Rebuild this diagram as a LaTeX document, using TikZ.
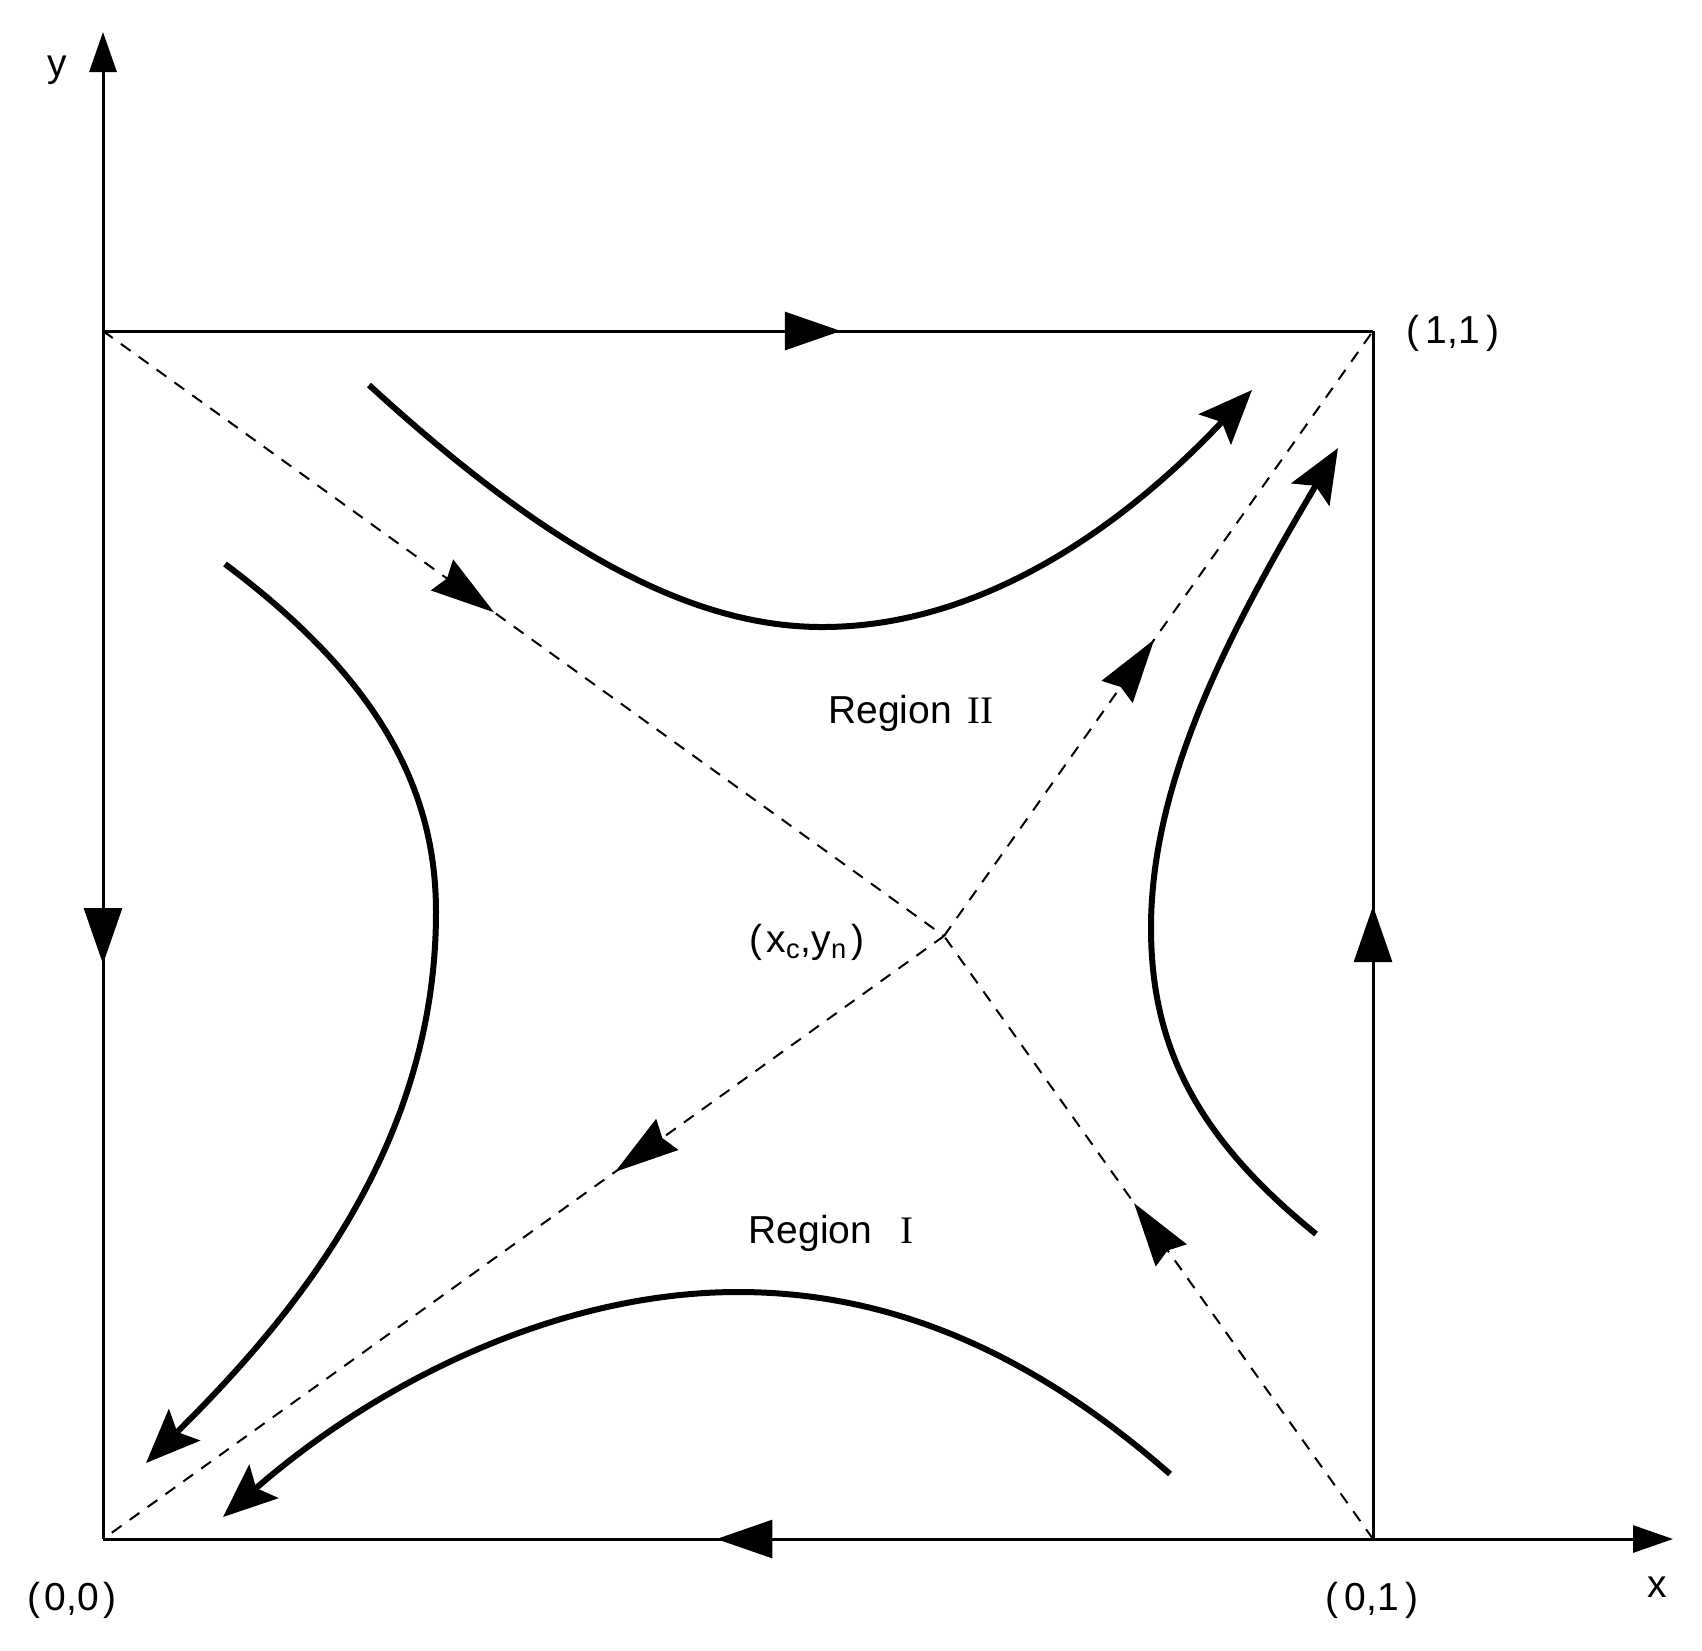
\documentclass[tikz,border=0pt]{standalone}
\usepackage{fontspec}
\setmainfont{Liberation Sans}
\newfontfamily\romanfont{Liberation Serif}
\usetikzlibrary{arrows.meta,decorations.markings}
\tikzset{
  edgeline/.style={line width=1.5pt},
  axisline/.style={line width=1.5pt,-{Triangle[length=20pt,width=13.5pt]}},
  sep/.style={line width=1pt,dash pattern=on 6pt off 5pt},
  traj/.style={line width=3pt,-{Stealth[length=27pt,width=22pt,inset=5pt]}},
  edgearrow/.style={postaction={decorate,decoration={markings,mark=at position #1 with {\arrow{Triangle[length=28pt,width=19pt]}}}}},
  separrow/.style={postaction={decorate,decoration={markings,mark=at position #1 with {\arrow{Stealth[length=32pt,width=19pt,inset=3pt]}}}}},
  lab/.style={font=\fontsize{19.5pt}{23pt}\selectfont,inner sep=0pt}
}
\begin{document}
\begin{tikzpicture}[x=0.5pt,y=-0.5pt]
\useasboundingbox (0,0) rectangle (1702,1650);
\coordinate (O) at (103,1539);
\coordinate (TL) at (103,331);
\coordinate (TR) at (1373,331);
\coordinate (BR) at (1373,1539);
\coordinate (S) at (944,936);
\coordinate (ytip) at (103,32);
\coordinate (xtip) at (1673,1539);
% axes
\draw[axisline] (O) -- (ytip);
\draw[axisline] (O) -- (xtip);
% square edges with direction arrows
\draw[edgeline,edgearrow=0.581] (TL) -- (TR);
\draw[edgeline,edgearrow=0.524] (TL) -- (O);
\draw[edgeline,edgearrow=0.524] (BR) -- (TR);
\draw[edgeline,edgearrow=0.517] (BR) -- (O);
% separatrices
\draw[sep,separrow=0.465] (TL) -- (S);
\draw[sep,separrow=0.557] (BR) -- (S);
\draw[sep,separrow=0.391] (S) -- (O);
\draw[sep,separrow=0.49] (S) -- (TR);
% trajectories
\coordinate (t1) at (369,385);
\coordinate (t1e) at (1252,390);
\draw[traj] (t1) .. controls (560,560) and (700,628) .. (825,627) .. controls (980,626) and (1120,530) .. (t1e);
\coordinate (t2) at (225,564);
\coordinate (t2e) at (146,1463);
\draw[traj] (t2) .. controls (380,680) and (436,790) .. (436,912) .. controls (436,1150) and (290,1320) .. (t2e);
\coordinate (t3) at (1316,1234);
\coordinate (t3e) at (1338,448);
\draw[traj] (t3) .. controls (1200,1140) and (1151,1050) .. (1151,928) .. controls (1151,780) and (1230,630) .. (t3e);
\coordinate (t4) at (1170,1474);
\coordinate (t4e) at (223,1517);
\draw[traj] (t4) .. controls (1040,1360) and (900,1292) .. (738,1292) .. controls (560,1292) and (380,1380) .. (t4e);
% labels
\node[lab] (ylab) at (57,70) {y};
\node[lab] (xlab) at (1657,1587) {x};
\node[lab] (p11) at (1453,333) {(\hspace{3pt}1,1\hspace{3pt})};
\node[lab] (p00) at (72,1600) {(\hspace{2pt}0,0\hspace{2pt})};
\node[lab] (p01) at (1372,1600) {(\hspace{3pt}0,1\hspace{3pt})};
\node[lab] (sp) at (807,942) {(\hspace{2pt}x\textsubscript{c},y\textsubscript{n}\hspace{2pt})};
\node[lab] (r2) at (911,713) {Region\hspace{8pt}{\romanfont II}};
\node[lab] (r1) at (831,1233) {Region\hspace{14pt}{\romanfont I}};
\end{tikzpicture}
\end{document}
